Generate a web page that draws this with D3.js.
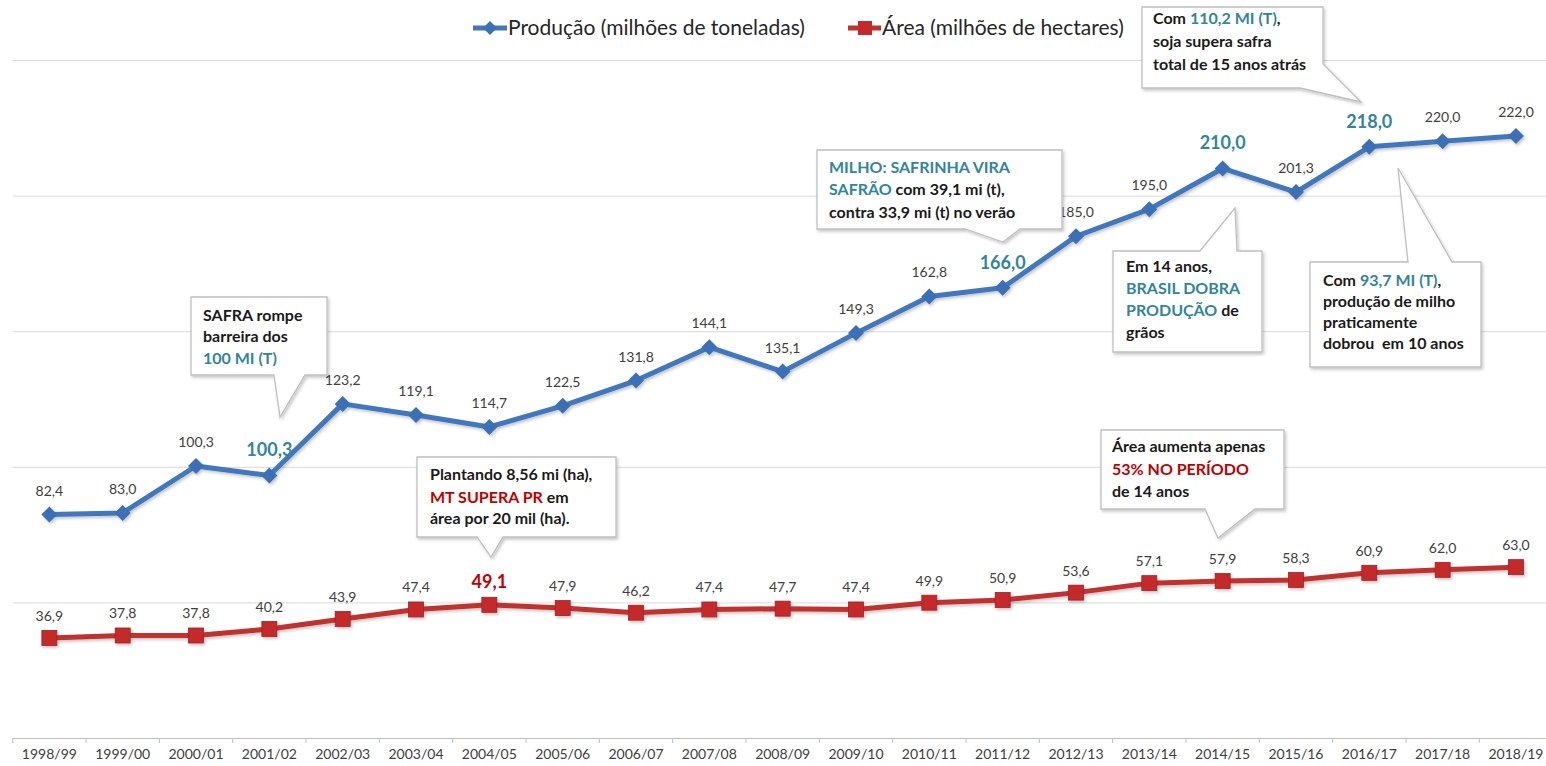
<!DOCTYPE html>
<html>
<head>
<meta charset="utf-8">
<script src="https://cdn.jsdelivr.net/npm/d3@7"></script>
<style>
  body { margin: 0; background: #fff; }
  svg { display: block; font-family: Lato, "Noto Sans", sans-serif; }
</style>
</head>
<body>
<div id="chart"></div>
<script>
var categories = ["1998/99", "1999/00", "2000/01", "2001/02", "2002/03", "2003/04", "2004/05",
  "2005/06", "2006/07", "2007/08", "2008/09", "2009/10", "2010/11", "2011/12", "2012/13",
  "2013/14", "2014/15", "2015/16", "2016/17", "2017/18", "2018/19"];

// production in million tonnes (2001/02 point sits lower than its printed label)
var production = [82.4, 83.0, 100.3, 96.8, 123.2, 119.1, 114.7, 122.5, 131.8, 144.1, 135.1,
  149.3, 162.8, 166.0, 185.0, 195.0, 210.0, 201.3, 218.0, 220.0, 222.0];
var productionLabels = ["82,4", "83,0", "100,3", "100,3", "123,2", "119,1", "114,7", "122,5", "131,8",
  "144,1", "135,1", "149,3", "162,8", "166,0", "185,0", "195,0", "210,0", "201,3", "218,0", "220,0", "222,0"];
var productionHighlight = [3, 13, 16, 18];

// area in million hectares
var area = [36.9, 37.8, 37.8, 40.2, 43.9, 47.4, 49.1, 47.9, 46.2, 47.4, 47.7, 47.4, 49.9, 50.9,
  53.6, 57.1, 57.9, 58.3, 60.9, 62.0, 63.0];
var areaHighlight = [6];

var yTicks = [50, 100, 150, 200, 250];
var legendNames = ["Produção (milhões de toneladas)", "Área (milhões de hectares)"];

var TEAL = "#31859c", RED = "#c00000", INK = "#262626", LABEL = "#404040";
var BLUE = "#4177bd", DARKRED = "#c0302f";

var width = 1546, height = 766;

var svg = d3.select("#chart").append("svg")
    .attr("width", width)
    .attr("height", height);

var defs = svg.append("defs");
defs.append("filter").attr("id", "shadow")
    .attr("x", "-10%").attr("y", "-10%").attr("width", "130%").attr("height", "140%")
    .append("feDropShadow")
    .attr("dx", 1.5).attr("dy", 2).attr("stdDeviation", 1.5)
    .attr("flood-color", "#000").attr("flood-opacity", 0.22);

var x = d3.scaleBand()
    .domain(categories)
    .range([12.7, 12.7 + 21 * 73.33]);

var y = d3.scaleLinear()
    .domain([0, 250])
    .range([738, 60]);

function cx(d, i) { return x(categories[i]) + x.bandwidth() / 2; }

// gridlines
svg.append("g")
    .attr("class", "grid")
    .attr("transform", "translate(12.7,0)")
    .call(d3.axisLeft(y).tickValues(yTicks).tickSize(-(width - 12.7)).tickFormat(""))
    .call(function(g) {
        g.select(".domain").remove();
        g.selectAll("line").attr("stroke", "#d9d9d9");
    });

// x axis
var xAxis = svg.append("g")
    .attr("transform", "translate(0," + y(0) + ")")
    .call(d3.axisBottom(x).tickSizeOuter(0).tickSize(0).tickPadding(11));

xAxis.select(".domain").attr("stroke", "#bfbfbf").attr("d", "M12.7,0.5H" + width);
xAxis.selectAll("text")
    .style("font-size", "14px")
    .style("font-family", "Lato, sans-serif")
    .attr("fill", LABEL);

svg.append("g")
    .selectAll("line")
    .data(d3.range(22))
    .enter().append("line")
    .attr("x1", function(d) { return 12.7 + d * x.step(); })
    .attr("x2", function(d) { return 12.7 + d * x.step(); })
    .attr("y1", y(0))
    .attr("y2", y(0) + 5)
    .attr("stroke", "#bfbfbf");

var line = d3.line()
    .x(cx)
    .y(function(d) { return y(d); });

// area series
var gArea = svg.append("g").attr("filter", "url(#shadow)");
gArea.append("path")
    .datum(area)
    .attr("d", line)
    .attr("fill", "none")
    .attr("stroke", DARKRED)
    .attr("stroke-width", 5)
    .attr("stroke-linejoin", "round");

gArea.selectAll("rect")
    .data(area)
    .enter().append("rect")
    .attr("x", function(d, i) { return cx(d, i) - 7.5; })
    .attr("y", function(d) { return y(d) - 7.5; })
    .attr("width", 15)
    .attr("height", 15)
    .attr("fill", "#c42a2c")
    .attr("stroke", "#a52024")
    .attr("stroke-width", 0.8);

// production series
var gProd = svg.append("g").attr("filter", "url(#shadow)");
gProd.append("path")
    .datum(production)
    .attr("d", line)
    .attr("fill", "none")
    .attr("stroke", BLUE)
    .attr("stroke-width", 5)
    .attr("stroke-linejoin", "round");

gProd.selectAll("path.marker")
    .data(production)
    .enter().append("path")
    .attr("class", "marker")
    .attr("transform", function(d, i) { return "translate(" + cx(d, i) + "," + y(d) + ")"; })
    .attr("d", "M0,-8L8,0L0,8L-8,0Z")
    .attr("fill", "#3a70b6");

// data labels
svg.append("g")
    .selectAll("text")
    .data(production)
    .enter().append("text")
    .attr("x", cx)
    .attr("y", function(d) { return y(d) - 19; })
    .attr("text-anchor", "middle")
    .style("font-size", function(d, i) { return productionHighlight.indexOf(i) >= 0 ? "18px" : "14px"; })
    .style("font-weight", function(d, i) { return productionHighlight.indexOf(i) >= 0 ? "bold" : "normal"; })
    .attr("fill", function(d, i) { return productionHighlight.indexOf(i) >= 0 ? TEAL : LABEL; })
    .text(function(d, i) { return productionLabels[i]; });

svg.append("g")
    .selectAll("text")
    .data(area)
    .enter().append("text")
    .attr("x", cx)
    .attr("y", function(d) { return y(d) - 17; })
    .attr("text-anchor", "middle")
    .style("font-size", function(d, i) { return areaHighlight.indexOf(i) >= 0 ? "18px" : "14px"; })
    .style("font-weight", function(d, i) { return areaHighlight.indexOf(i) >= 0 ? "bold" : "normal"; })
    .attr("fill", function(d, i) { return areaHighlight.indexOf(i) >= 0 ? RED : LABEL; })
    .text(function(d) { return d3.format(".1f")(d).replace(".", ","); });

// legend
var legend = svg.append("g");
legend.append("line").attr("x1", 473).attr("x2", 507).attr("y1", 28).attr("y2", 28)
    .attr("stroke", BLUE).attr("stroke-width", 5);
legend.append("path").attr("transform", "translate(490,28)").attr("d", "M0,-7L7,0L0,7L-7,0Z").attr("fill", "#3a70b6");
legend.append("text").attr("x", 508).attr("y", 35).style("font-size", "21px").attr("fill", INK).text(legendNames[0]);
legend.append("line").attr("x1", 848).attr("x2", 881).attr("y1", 28).attr("y2", 28)
    .attr("stroke", DARKRED).attr("stroke-width", 5);
legend.append("rect").attr("x", 858).attr("y", 21).attr("width", 14).attr("height", 14).attr("fill", "#c42a2c");
legend.append("text").attr("x", 882).attr("y", 35).style("font-size", "21px").attr("fill", INK).text(legendNames[1]);

// callouts
var callouts = [
    { box: [191, 297, 136, 78], side: "bottom", base: [274, 305], tip: [280, 417], tx: 203, ty: [321, 342, 364],
      lines: [[["SAFRA rompe"]], [["barreira dos"]], [["100 MI (T)", TEAL]]] },
    { box: [817, 150, 245, 79], side: "bottom", base: [965, 1020], tip: [1003, 242], tx: 829, ty: [173, 195, 218],
      lines: [[["MILHO: SAFRINHA VIRA", TEAL]], [["SAFRÃO", TEAL], [" com 39,1 mi (t),"]], [["contra 33,9 mi (t) no verão"]]] },
    { box: [1142, 7, 181, 81], side: "corner", base: [57, 1300], tip: [1361, 102], tx: 1153, ty: [24, 47, 70],
      lines: [[["Com "], ["110,2 MI (T)", TEAL], [","]], [["soja supera safra"]], [["total de 15 anos atrás"]]] },
    { box: [1113, 251, 149, 101], side: "top", base: [1200, 1237], tip: [1235, 208], tx: 1126, ty: [272, 294, 316, 338],
      lines: [[["Em 14 anos,"]], [["BRASIL DOBRA", TEAL]], [["PRODUÇÃO", TEAL], [" de"]], [["grãos"]]] },
    { box: [1310, 262, 171, 105], side: "top", base: [1408, 1452], tip: [1398, 168], tx: 1323, ty: [286, 307, 328, 349],
      lines: [[["Com "], ["93,7 MI (T)", TEAL], [","]], [["produção de milho"]], [["praticamente"]], [["dobrou  em 10 anos"]]] },
    { box: [417, 457, 199, 80], side: "bottom", base: [477, 503], tip: [491, 557], tx: 430, ty: [480, 503, 524],
      lines: [[["Plantando 8,56 mi (ha),"]], [["MT SUPERA PR", RED], [" em"]], [["área por 20 mil (ha)."]]] },
    { box: [1101, 430, 183, 79], side: "bottom", base: [1205, 1255], tip: [1218, 538], tx: 1112, ty: [452, 475, 497],
      lines: [[["Área aumenta apenas"]], [["53% NO PERÍODO", RED]], [["de 14 anos"]]] }
];

function calloutPath(c) {
    var bx = c.box[0], by = c.box[1], bw = c.box[2], bh = c.box[3];
    var p = d3.path();
    if (c.side === "bottom") {
        p.moveTo(bx, by); p.lineTo(bx + bw, by); p.lineTo(bx + bw, by + bh);
        p.lineTo(c.base[1], by + bh); p.lineTo(c.tip[0], c.tip[1]); p.lineTo(c.base[0], by + bh);
        p.lineTo(bx, by + bh);
    } else if (c.side === "top") {
        p.moveTo(bx, by); p.lineTo(c.base[0], by); p.lineTo(c.tip[0], c.tip[1]); p.lineTo(c.base[1], by);
        p.lineTo(bx + bw, by); p.lineTo(bx + bw, by + bh); p.lineTo(bx, by + bh);
    } else {
        p.moveTo(bx, by); p.lineTo(bx + bw, by); p.lineTo(bx + bw, by + c.base[0]);
        p.lineTo(c.tip[0], c.tip[1]); p.lineTo(c.base[1], by + bh); p.lineTo(bx, by + bh);
    }
    p.closePath();
    return p.toString();
}

var gCall = svg.append("g")
    .selectAll("g")
    .data(callouts)
    .enter().append("g");

gCall.append("path")
    .attr("d", calloutPath)
    .attr("fill", "#fff")
    .attr("stroke", "#bfbfbf")
    .attr("stroke-width", 1.3)
    .attr("filter", "url(#shadow)");

gCall.each(function(c) {
    var g = d3.select(this);
    c.lines.forEach(function(segs, li) {
        var t = g.append("text")
            .attr("x", c.tx)
            .attr("y", c.ty[li])
            .style("font-size", "16px")
            .style("font-weight", "bold")
            .style("white-space", "pre")
            .attr("xml:space", "preserve");
        segs.forEach(function(s) {
            t.append("tspan").attr("fill", s[1] || "#1a1a1a").text(s[0]);
        });
    });
});
</script>
</body>
</html>
